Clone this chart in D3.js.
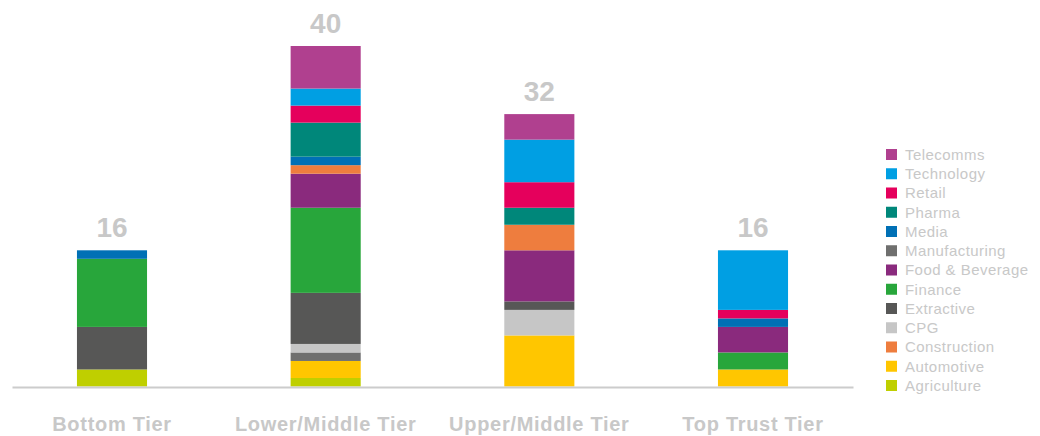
<!DOCTYPE html>
<html>
<head>
<meta charset="utf-8">
<script src="https://cdn.jsdelivr.net/npm/d3@7"></script>
<style>
  html, body { margin: 0; padding: 0; background: #fff; }
  svg { display: block; }
</style>
</head>
<body>
<svg id="chart" width="1040" height="436"></svg>
<script>
// ---- Data ----
const tiers = ["Bottom Tier", "Lower/Middle Tier", "Upper/Middle Tier", "Top Trust Tier"];
const legendOrder = ["Telecomms", "Technology", "Retail", "Pharma", "Media", "Manufacturing",
  "Food & Beverage", "Finance", "Extractive", "CPG", "Construction", "Automotive", "Agriculture"];
// stacking order, bottom to top
const stackOrder = ["Agriculture", "Automotive", "Manufacturing", "CPG", "Extractive", "Finance",
  "Food & Beverage", "Construction", "Media", "Pharma", "Retail", "Technology", "Telecomms"];
const colors = {
  "Telecomms": "#b0408f", "Technology": "#009fe3", "Retail": "#e5005c", "Pharma": "#00877a",
  "Media": "#0070b5", "Manufacturing": "#6f6f6e", "Food & Beverage": "#8a2a7d", "Finance": "#28a63b",
  "Extractive": "#575756", "CPG": "#c6c6c6", "Construction": "#ee7d3e", "Automotive": "#ffc600",
  "Agriculture": "#bfcf00"
};
// values per tier (Bottom, Lower/Middle, Upper/Middle, Top Trust)
const Agriculture    = [2, 1, 0, 0];
const Automotive     = [0, 2, 6, 2];
const Manufacturing  = [0, 1, 0, 0];
const CPG            = [0, 1, 3, 0];
const Extractive     = [5, 6, 1, 0];
const Finance        = [8, 10, 0, 2];
const FoodBeverage   = [0, 4, 6, 3];
const Construction   = [0, 1, 3, 0];
const Media          = [1, 1, 0, 1];
const Pharma         = [0, 4, 2, 0];
const Retail         = [0, 2, 3, 1];
const Technology     = [0, 2, 5, 7];
const Telecomms      = [0, 5, 3, 0];
const totals = [16, 40, 32, 16];

const series = {
  "Agriculture": Agriculture, "Automotive": Automotive, "Manufacturing": Manufacturing,
  "CPG": CPG, "Extractive": Extractive, "Finance": Finance, "Food & Beverage": FoodBeverage,
  "Construction": Construction, "Media": Media, "Pharma": Pharma, "Retail": Retail,
  "Technology": Technology, "Telecomms": Telecomms
};

const table = tiers.map((t, i) => {
  const row = { tier: t };
  stackOrder.forEach(k => row[k] = series[k][i]);
  return row;
});

// ---- Layout ----
const svg = d3.select("#chart");
const FONT = "'Liberation Sans', Arial, Helvetica, sans-serif";
const textColor = "#c8c8c8";

const x = d3.scaleBand().domain(tiers).range([12, 853]).paddingInner(0.672).paddingOuter(0.304);
const y = d3.scaleLinear().domain([0, 40]).range([386.5, 46]);

const stacked = d3.stack().keys(stackOrder)(table);

svg.append("g").selectAll("g")
  .data(stacked)
  .join("g")
  .attr("fill", d => colors[d.key])
  .selectAll("rect")
  .data(d => d.filter(p => p[1] - p[0] > 0))
  .join("rect")
  .attr("x", d => x(d.data.tier))
  .attr("width", x.bandwidth())
  .attr("y", d => y(d[1]))
  .attr("height", d => y(d[0]) - y(d[1]));

// axis
const axis = svg.append("g")
  .attr("transform", "translate(0,387)")
  .call(d3.axisBottom(x).tickSize(0).tickPadding(30));
axis.select(".domain").attr("stroke", "#cccccc").attr("stroke-width", 2);
axis.selectAll("text")
  .attr("fill", textColor)
  .style("font-family", FONT)
  .style("font-size", "20px")
  .style("font-weight", "bold")
  .style("letter-spacing", "0.7px");

// totals
svg.append("g").selectAll("text")
  .data(tiers)
  .join("text")
  .attr("x", d => x(d) + x.bandwidth() / 2)
  .attr("y", (d, i) => y(totals[i]) - 13)
  .attr("text-anchor", "middle")
  .attr("fill", textColor)
  .style("font-family", FONT)
  .style("font-size", "28px")
  .style("font-weight", "bold")
  .text((d, i) => totals[i]);

// legend
const legend = svg.append("g").attr("transform", "translate(886,149)");
const ly = d3.scalePoint().domain(legendOrder).range([0, 231]);
const item = legend.selectAll("g").data(legendOrder).join("g")
  .attr("transform", d => `translate(0,${ly(d)})`);
item.append("rect").attr("width", 11).attr("height", 11).attr("fill", d => colors[d]);
item.append("text")
  .attr("x", 19).attr("y", 5.5).attr("dy", "0.35em")
  .attr("fill", textColor)
  .style("font-family", FONT)
  .style("font-size", "15px")
  .style("letter-spacing", "0.45px")
  .text(d => d);
</script>
</body>
</html>
